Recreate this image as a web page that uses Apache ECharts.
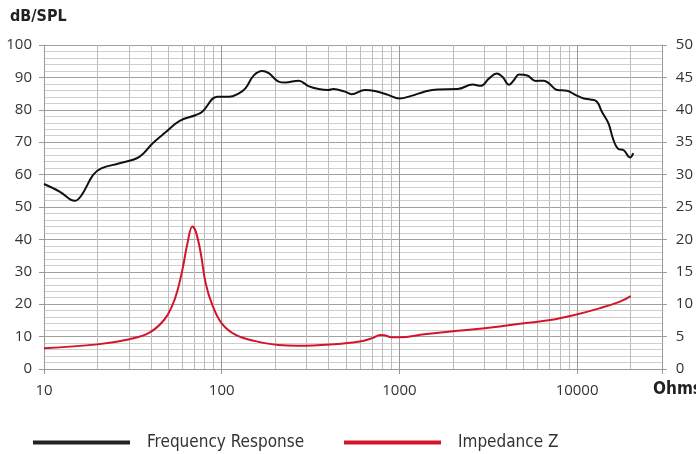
<!DOCTYPE html>
<html>
<head>
<meta charset="utf-8">
<script src="https://cdn.jsdelivr.net/npm/echarts@6/dist/echarts.min.js"></script>
<style>
html,body{margin:0;padding:0;background:#fff;}
#c{width:696px;height:454px;}
</style>
</head>
<body>
<div id="c"></div>
<script>
// Frequency response [Hz, dB SPL]
var freqResponse = [
  [10, 57.1], [12.3, 54.7], [14.9, 51.9], [16.3, 53.7], [18.9, 59.9], [21, 61.9],
  [26.6, 63.5], [34.4, 65.5], [40.9, 69.7], [48.7, 73.2], [57.7, 76.5], [71.6, 78.4],
  [77.8, 79.4], [94.4, 84.0], [110, 84.0], [125, 85.1], [136, 86.6], [152, 90.7],
  [169, 92.0], [184, 91.3], [209, 88.7], [228, 88.4], [271, 89.0], [308, 87.3],
  [351, 86.4], [398, 86.1], [425, 86.4], [494, 85.6], [538, 84.8], [640, 86.1],
  [727, 85.8], [864, 84.6], [1000, 83.5], [1166, 84.3], [1384, 85.6], [1643, 86.3],
  [2128, 86.4], [2582, 87.8], [2872, 87.4], [3200, 89.7], [3530, 91.2], [3800, 90.2],
  [4140, 87.7], [4417, 89.2], [4713, 90.9], [5244, 90.6], [5838, 88.9], [6503, 89.0],
  [6935, 88.2], [7720, 86.1], [8780, 85.9], [9780, 84.6], [10890, 83.5], [11870, 83.2],
  [12930, 82.5], [13790, 79.4], [15020, 75.8], [16020, 70.7], [17090, 67.9], [18230, 67.6],
  [19860, 65.3], [20730, 66.6]
];
// Impedance [Hz, Ohms]
var impedance = [
  [10, 3.2], [20, 3.8], [30.3, 4.6], [39.2, 5.6], [47.5, 7.6], [52.9, 9.9], [56.5, 12.2],
  [60.3, 15.5], [64.2, 19.4], [68.4, 22.0], [71.5, 21.2], [76.2, 17.9], [81.3, 13.2],
  [88.5, 9.9], [100, 7.05], [120, 5.25], [155, 4.3], [209, 3.7], [271, 3.6], [414, 3.8],
  [586, 4.2], [711, 4.8], [778, 5.25], [827, 5.2], [902, 4.9], [1000, 4.9], [1384, 5.35],
  [2128, 5.9], [3270, 6.4], [5020, 7.05], [7080, 7.55], [9560, 8.3], [13490, 9.4],
  [17450, 10.4], [20050, 11.25]
];
var seriesNames = ['Frequency Response', 'Impedance Z'];
var xRange = [10, 30000];
var leftRange = [0, 100, 10];
var rightRange = [0, 50, 5];
var decades = [10, 100, 1000, 10000];
var minorMultipliers = [2, 3, 4, 5, 6, 7, 8, 9];

var minorFreqs = [];
decades.forEach(function (d) {
  minorMultipliers.forEach(function (m) {
    var f = d * m;
    if (f < xRange[1]) minorFreqs.push(f);
  });
});

var labelFont = '"Open Sans", sans-serif';
var condFont = '"Liberation Sans Narrow", "DejaVu Sans Condensed", sans-serif';
var axisGray = '#9a9a9a';

var chart = echarts.init(document.getElementById('c'), null, {renderer: 'canvas'});
chart.setOption({
  animation: false,
  backgroundColor: '#fff',
  grid: {left: 44, right: 30, top: 45, bottom: 85, containLabel: false},
  graphic: [
    {type: 'text', left: 10, top: 9, style: {text: 'dB/SPL', font: 'bold 16px ' + condFont, fill: '#222'}},
    {type: 'text', left: 653, top: 381, style: {text: 'Ohms', font: 'bold 17px ' + condFont, fill: '#222'}}
  ],
  legend: [
    {data: [seriesNames[0]], left: 33, top: 434, padding: 0, itemWidth: 97, itemHeight: 4, icon: 'rect',
     textStyle: {fontFamily: condFont, fontSize: 17, color: '#333', padding: [0, 0, 0, 12]}},
    {data: [seriesNames[1]], left: 344, top: 434, padding: 0, itemWidth: 97, itemHeight: 4, icon: 'rect',
     textStyle: {fontFamily: condFont, fontSize: 17, color: '#333', padding: [0, 0, 0, 12]}}
  ],
  xAxis: {
    type: 'log', logBase: 10, min: xRange[0], max: xRange[1],
    axisLine: {show: true, lineStyle: {color: axisGray, width: 1}},
    axisTick: {show: true, inside: false, length: 5, lineStyle: {color: axisGray}},
    axisLabel: {
      margin: 14, color: '#333', fontFamily: labelFont, fontSize: 15,
      formatter: function (v) { return decades.indexOf(Math.round(v)) >= 0 ? String(Math.round(v)) : ''; }
    },
    splitLine: {show: true, lineStyle: {color: '#999', width: 1}},
    minorTick: {show: false},
    minorSplitLine: {show: false}
  },
  yAxis: [
    {
      type: 'value', min: leftRange[0], max: leftRange[1], interval: leftRange[2],
      axisLine: {show: true, lineStyle: {color: axisGray}},
      axisTick: {show: true, length: 5, lineStyle: {color: axisGray}},
      axisLabel: {margin: 12, color: '#333', fontFamily: labelFont, fontSize: 15},
      splitLine: {show: true, lineStyle: {color: '#a0a0a0', width: 1}},
      minorTick: {show: false, splitNumber: 5},
      minorSplitLine: {show: true, lineStyle: {color: '#cfcfcf', width: 1}}
    },
    {
      type: 'value', position: 'right', min: rightRange[0], max: rightRange[1], interval: rightRange[2],
      axisLine: {show: true, lineStyle: {color: axisGray}},
      axisTick: {show: true, length: 5, lineStyle: {color: axisGray}},
      axisLabel: {margin: 14, color: '#333', fontFamily: labelFont, fontSize: 15},
      splitLine: {show: false}
    }
  ],
  series: [
    {
      name: seriesNames[0], type: 'line', yAxisIndex: 0, data: freqResponse,
      showSymbol: false, symbol: 'none', smooth: 0.4, z: 5,
      lineStyle: {color: '#111', width: 2},
      itemStyle: {color: '#222'},
      markLine: {
        silent: true, symbol: ['none', 'none'], label: {show: false},
        lineStyle: {color: '#bdbdbd', width: 1, type: 'solid'},
        emphasis: {disabled: true},
        data: minorFreqs.map(function (f) { return {xAxis: f}; }),
        z: 1
      }
    },
    {
      name: seriesNames[1], type: 'line', yAxisIndex: 1, data: impedance,
      showSymbol: false, symbol: 'none', smooth: 0.4, z: 5,
      lineStyle: {color: '#d2152b', width: 2},
      itemStyle: {color: '#d2152b'}
    }
  ]
});
</script>
</body>
</html>
